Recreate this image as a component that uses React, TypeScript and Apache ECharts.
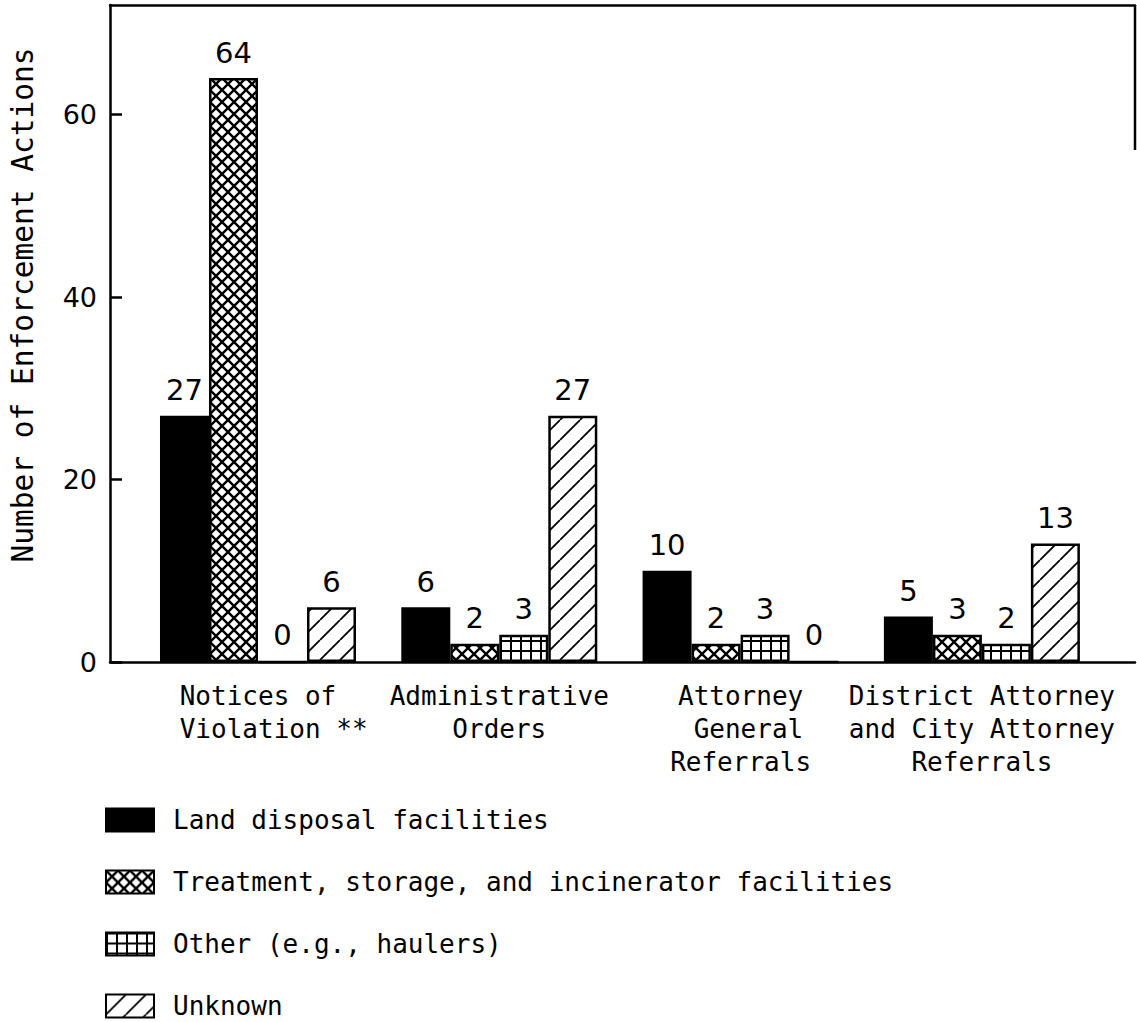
import React, { useEffect, useRef } from "react";
import * as echarts from "echarts";

const categories = [
  "  Notices of  \n  Violation **",
  "Administrative\nOrders",
  "Attorney\n General\nReferrals",
  "District Attorney\nand City Attorney\nReferrals",
];
const seriesNames = [
  "Land disposal facilities",
  "Treatment, storage, and incinerator facilities",
  "Other (e.g., haulers)",
  "Unknown",
];
const landDisposal = [27, 6, 10, 5];
const treatment = [64, 2, 2, 3];
const other = [0, 3, 3, 2];
const unknown = [6, 27, 0, 13];
const yTicks = [0, 20, 40, 60];
const yTitle = "Number of Enforcement Actions";

const MONO = "'DejaVu Sans Mono', 'Liberation Mono', monospace";
const SANS = "'DejaVu Sans', sans-serif";

function makePattern(kind: string) {
  const c = document.createElement("canvas");
  const s = kind === "cross" ? 12 : kind === "grid" ? 10 : 20;
  c.width = s;
  c.height = s;
  const g = c.getContext("2d")!;
  g.fillStyle = "#fff";
  g.fillRect(0, 0, s, s);
  g.strokeStyle = "#000";
  g.fillStyle = "#000";
  if (kind === "cross") {
    g.lineWidth = 2.4;
    g.beginPath();
    g.moveTo(-2, -2);
    g.lineTo(s + 2, s + 2);
    g.moveTo(s + 2, -2);
    g.lineTo(-2, s + 2);
    g.stroke();
  } else if (kind === "grid") {
    g.fillRect(0, 0, 2, s);
    g.fillRect(0, 0, s, 2);
  } else {
    g.lineWidth = 1.8;
    g.beginPath();
    for (const k of [-s, 0, s]) {
      g.moveTo(k, s);
      g.lineTo(k + s, 0);
    }
    g.stroke();
  }
  return { image: c, repeat: "repeat" } as any;
}

export default function App() {
  const ref = useRef<HTMLDivElement>(null);
  useEffect(() => {
    document.body.style.margin = "0";
    const chart = echarts.init(ref.current!, null, { renderer: "svg" });
    const fills = ["#000", makePattern("cross"), makePattern("grid"), makePattern("diag")];
    const values = [landDisposal, treatment, other, unknown];
    const xMin = -0.6133;
    const xMax = 3.6345;
    chart.setOption({
      animation: false,
      backgroundColor: "#fff",
      grid: { left: 110, right: 2, top: 5, bottom: 360, containLabel: false },
      xAxis: [
        {
          type: "value",
          min: xMin,
          max: xMax,
          splitLine: { show: false },
          axisLine: { show: true, onZero: false, lineStyle: { color: "#000", width: 2.5 } },
          axisTick: { show: false },
          axisLabel: {
            customValues: [0, 1, 2, 3],
            formatter: (v: number) => categories[Math.round(v)] ?? "",
            fontFamily: MONO,
            fontSize: 26,
            lineHeight: 33,
            color: "#000",
            margin: 17,
          },
        },
        {
          type: "value",
          position: "top",
          min: xMin,
          max: xMax,
          splitLine: { show: false },
          axisLine: { show: true, onZero: false, lineStyle: { color: "#000", width: 2.5 } },
          axisTick: { show: false },
          axisLabel: { show: false },
        },
      ],
      yAxis: {
        type: "value",
        min: 0,
        max: 72,
        name: yTitle,
        nameLocation: "middle",
        nameRotate: 90,
        nameGap: 72,
        nameTextStyle: {
          fontFamily: MONO,
          fontSize: 29.5,
          color: "#000",
          padding: [0, 0, 0, 57],
        },
        splitLine: { show: false },
        axisLine: { show: true, onZero: false, lineStyle: { color: "#000", width: 2.5 } },
        axisTick: {
          show: true,
          inside: true,
          length: 12,
          customValues: yTicks,
          lineStyle: { color: "#000", width: 2.5 },
        },
        axisLabel: {
          customValues: yTicks,
          fontFamily: SANS,
          fontSize: 27,
          color: "#000",
          margin: 13,
        },
      },
      legend: {
        orient: "vertical",
        left: 105,
        top: 807,
        height: 240,
        padding: 0,
        itemWidth: 48,
        itemHeight: 23,
        itemGap: 36,
        icon: "rect",
        data: seriesNames,
        textStyle: {
          fontFamily: MONO,
          fontSize: 26,
          color: "#000",
          lineHeight: 26,
          padding: [0, 0, 0, 14],
        },
      },
      graphic: [
        {
          type: "line",
          shape: { x1: 1135, y1: 5, x2: 1135, y2: 150 },
          style: { stroke: "#000", lineWidth: 2.5 },
          silent: true,
        },
      ],
      series: values.map((arr, i) => ({
        type: "bar",
        name: seriesNames[i],
        barWidth: 49,
        barGap: "0%",
        data: arr.map((v, j) => [j, v]),
        itemStyle: { color: fills[i], borderColor: "#000", borderWidth: 2.5 },
        label: {
          show: true,
          position: "top",
          distance: 11,
          fontFamily: SANS,
          fontSize: 29,
          color: "#000",
          formatter: (p: any) => String(p.value[1]),
        },
      })),
    });
    return () => chart.dispose();
  }, []);
  return (
    <div
      ref={ref}
      style={{ position: "absolute", left: 0, top: 0, width: 1137, height: 1022 }}
    />
  );
}
